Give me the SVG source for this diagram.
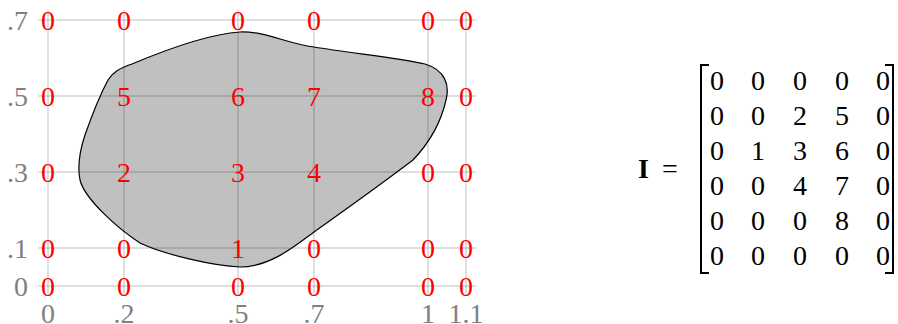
<svg xmlns="http://www.w3.org/2000/svg" width="898" height="324" viewBox="0 0 898 324">
<style>
.grid line{stroke:#000;stroke-opacity:0.25;stroke-width:1}
.v{font-family:"Liberation Serif",serif;font-size:28px;fill:#ff0000;text-anchor:middle}
.tk{font-family:"Liberation Serif",serif;font-size:28px;fill:#808080}
.m{font-family:"Liberation Serif",serif;font-size:28px;fill:#000;text-anchor:middle}
.br{fill:none;stroke:#000;stroke-width:2}
</style>
<rect width="898" height="324" fill="#fff"/>
<g id="region">
<path d="M108,80 C113,72 120,68 132,64 C170,48 210,34 240,32 C265,31 285,43 314,47 C350,53 400,58 425,64 C445,70 450,85 446,100 C442,118 432,140 413,160 C380,185 345,210 314,232 C295,246 270,267 240,267 C215,266 165,255 140,243 C120,230 85,200 80,180 C77,165 80,150 85,135 C92,115 100,95 108,80 Z" fill="#c0c0c0" stroke="#000" stroke-width="1.2"/>
</g>
<g id="grid" class="grid">
<line x1="38" y1="286" x2="476" y2="286"/>
<line x1="38" y1="248" x2="476" y2="248"/>
<line x1="38" y1="172" x2="476" y2="172"/>
<line x1="38" y1="96" x2="476" y2="96"/>
<line x1="38" y1="20" x2="476" y2="20"/>
<line x1="48" y1="10" x2="48" y2="296"/>
<line x1="124" y1="10" x2="124" y2="296"/>
<line x1="238" y1="10" x2="238" y2="296"/>
<line x1="314" y1="10" x2="314" y2="296"/>
<line x1="428" y1="10" x2="428" y2="296"/>
<line x1="466" y1="10" x2="466" y2="296"/>
</g>
<g id="ticks" class="tk">
<text x="28" y="30" text-anchor="end">.7</text>
<text x="28" y="106" text-anchor="end">.5</text>
<text x="28" y="182" text-anchor="end">.3</text>
<text x="28" y="258" text-anchor="end">.1</text>
<text x="28" y="296" text-anchor="end">0</text>
<text x="48" y="323" text-anchor="middle">0</text>
<text x="124" y="323" text-anchor="middle">.2</text>
<text x="238" y="323" text-anchor="middle">.5</text>
<text x="314" y="323" text-anchor="middle">.7</text>
<text x="428" y="323" text-anchor="middle">1</text>
<text x="466" y="323" text-anchor="middle">1.1</text>
</g>
<g id="values" class="v">
<text x="48" y="30">0</text><text x="124" y="30">0</text><text x="238" y="30">0</text><text x="314" y="30">0</text><text x="428" y="30">0</text><text x="466" y="30">0</text>
<text x="48" y="106">0</text><text x="124" y="106">5</text><text x="238" y="106">6</text><text x="314" y="106">7</text><text x="428" y="106">8</text><text x="466" y="106">0</text>
<text x="48" y="182">0</text><text x="124" y="182">2</text><text x="238" y="182">3</text><text x="314" y="182">4</text><text x="428" y="182">0</text><text x="466" y="182">0</text>
<text x="48" y="258">0</text><text x="124" y="258">0</text><text x="238" y="258">1</text><text x="314" y="258">0</text><text x="428" y="258">0</text><text x="466" y="258">0</text>
<text x="48" y="296">0</text><text x="124" y="296">0</text><text x="238" y="296">0</text><text x="314" y="296">0</text><text x="428" y="296">0</text><text x="466" y="296">0</text>
</g>
<g id="matrix">
<text x="638" y="178" font-family="Liberation Serif,serif" font-size="28" font-weight="bold">I</text>
<text x="670" y="178" font-family="Liberation Serif,serif" font-size="28" text-anchor="middle">=</text>
<path class="br" d="M709,65 H701 V273 H709"/>
<path class="br" d="M885,65 H893 V273 H885"/>
<g class="m">
<text x="717" y="90">0</text><text x="758" y="90">0</text><text x="800" y="90">0</text><text x="842" y="90">0</text><text x="883" y="90">0</text>
<text x="717" y="125">0</text><text x="758" y="125">0</text><text x="800" y="125">2</text><text x="842" y="125">5</text><text x="883" y="125">0</text>
<text x="717" y="160">0</text><text x="758" y="160">1</text><text x="800" y="160">3</text><text x="842" y="160">6</text><text x="883" y="160">0</text>
<text x="717" y="195">0</text><text x="758" y="195">0</text><text x="800" y="195">4</text><text x="842" y="195">7</text><text x="883" y="195">0</text>
<text x="717" y="230">0</text><text x="758" y="230">0</text><text x="800" y="230">0</text><text x="842" y="230">8</text><text x="883" y="230">0</text>
<text x="717" y="265">0</text><text x="758" y="265">0</text><text x="800" y="265">0</text><text x="842" y="265">0</text><text x="883" y="265">0</text>
</g>
</g>
</svg>
